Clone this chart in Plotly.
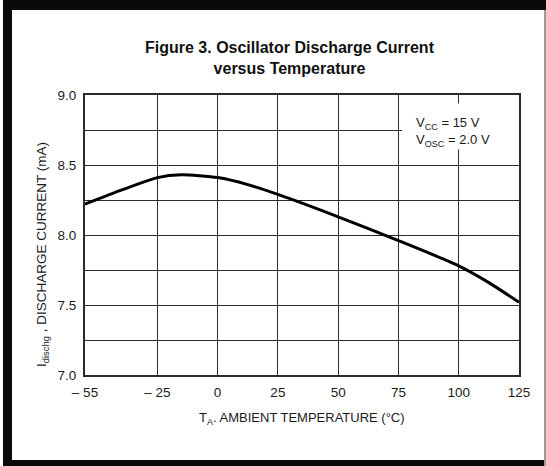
import plotly.graph_objects as go

# Data
temps = [-55, -40, -25, -15, 0, 12.5, 25, 50, 75, 100, 112.5, 125]
current = [8.22, 8.32, 8.41, 8.43, 8.41, 8.36, 8.29, 8.13, 7.96, 7.78, 7.66, 7.52]
x_ticks = [-55, -25, 0, 25, 50, 75, 100, 125]
x_tick_text = ["\u2013 55", "\u2013 25", "0", "25", "50", "75", "100", "125"]
y_ticks = [7.0, 7.5, 8.0, 8.5, 9.0]
y_tick_text = ["7.0", "7.5", "8.0", "8.5", "9.0"]

W, H = 546, 466
L, R, T, B = 85, 27, 95, 91
pw, ph = W - L - R, H - T - B

def px(x):
    return (x - L) / pw

def py(y):
    return (H - B - y) / ph

FONT = "Liberation Sans"
grid = "#2b2b2b"

fig = go.Figure()
fig.add_trace(go.Scatter(
    x=temps, y=current, mode="lines",
    line=dict(color="black", width=3, shape="spline", smoothing=0.6),
    hoverinfo="skip", showlegend=False,
))

fig.update_layout(
    width=W, height=H,
    margin=dict(l=L, r=R, t=T, b=B, pad=0),
    paper_bgcolor="white", plot_bgcolor="white",
    font=dict(family=FONT, size=13, color="#1a1a1a"),
    showlegend=False,
    xaxis=dict(
        range=[-55, 125], tickmode="array", tickvals=x_ticks, ticktext=x_tick_text,
        showgrid=True, gridcolor=grid, gridwidth=1.3,
        showline=True, linecolor=grid, linewidth=2, mirror=True,
        zeroline=False, ticks="", ticklabelstandoff=4,
        tickfont=dict(family=FONT, size=13.5, color="#1a1a1a"),
    ),
    yaxis=dict(
        range=[7.0, 9.0], tickmode="array", tickvals=y_ticks, ticktext=y_tick_text,
        showgrid=True, gridcolor=grid, gridwidth=1.3,
        minor=dict(tickvals=[7.25, 7.75, 8.25, 8.75], showgrid=True, gridcolor=grid, gridwidth=1.3),
        showline=True, linecolor=grid, linewidth=2, mirror=True,
        zeroline=False, ticks="", ticklabelstandoff=4,
        tickfont=dict(family=FONT, size=13.5, color="#1a1a1a"),
    ),
)

# white box behind the condition text
fig.add_shape(type="rect", xref="x", yref="y", x0=76.5, x1=125, y0=8.61, y1=8.94,
              fillcolor="white", line=dict(width=0), layer="between")

# outer frame drawn in pixel units via paper coordinates
frame = "#0a0a0a"
bands = [
    (3, 12, 0, 466, frame),         # left
    (3, 546, 0, 10, frame),         # top
    (3, 546, 460, 466, frame),      # bottom
    (544, 546, 0, 466, "#9a9a9a"),  # right (thin)
]
for xa, xb, ya, yb, col in bands:
    fig.add_shape(type="rect", xref="paper", yref="paper",
                  x0=px(xa), x1=px(xb), y0=py(yb), y1=py(ya),
                  fillcolor=col, line=dict(width=0), layer="above")
# top band also as a thick line (robust against rect clipping)
fig.add_shape(type="line", xref="paper", yref="paper",
              x0=px(3), x1=px(546), y0=py(5), y1=py(5),
              line=dict(color=frame, width=10), layer="above")

annotations = [
    dict(text="<b>Figure 3. Oscillator Discharge Current<br>versus Temperature</b>",
         xref="paper", yref="paper", x=px(290), y=py(58), xanchor="center", yanchor="middle",
         showarrow=False, font=dict(family=FONT, size=16, color="#111111")),
    dict(text="T<sub>A</sub>. AMBIENT TEMPERATURE (\u00b0C)",
         xref="paper", yref="paper", x=px(302), y=py(418), xanchor="center", yanchor="middle",
         showarrow=False, font=dict(family=FONT, size=13, color="#1a1a1a")),
    dict(text="I<sub>dischg</sub> , DISCHARGE CURRENT (mA)",
         xref="paper", yref="paper", x=px(42), y=py(255), xanchor="center", yanchor="middle",
         textangle=-90, showarrow=False, font=dict(family=FONT, size=13.5, color="#1a1a1a")),
    dict(text="V<sub>CC</sub> = 15 V<br>V<sub>OSC</sub> = 2.0 V",
         xref="paper", yref="paper", x=px(414), y=py(132), xanchor="left", yanchor="middle",
         align="left", showarrow=False, font=dict(family=FONT, size=13, color="#1a1a1a")),
]
fig.update_layout(annotations=annotations)

fig.write_html("out.html", config={"displayModeBar": False},
               post_script="document.documentElement.style.margin='0px';document.body.style.margin='0px';document.body.style.padding='0px';window.scrollTo(0,0);")
